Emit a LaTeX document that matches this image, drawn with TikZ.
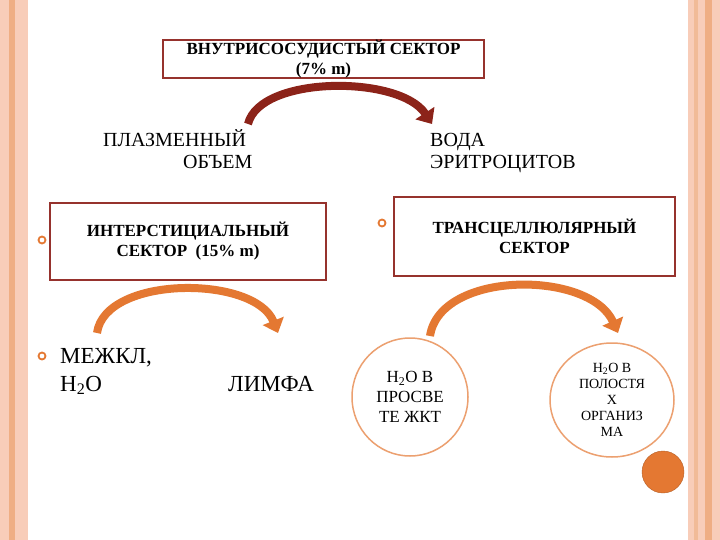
\documentclass[tikz,border=0pt]{standalone}
\usepackage{fontspec}
\setmainfont{Liberation Serif}
\usetikzlibrary{arrows.meta,shapes.geometric}
\definecolor{boxred}{RGB}{150,50,45}
\definecolor{arrred}{RGB}{140,35,25}
\definecolor{orng}{RGB}{228,120,50}
\definecolor{pinkbar}{RGB}{248,205,185}
\begin{document}
\begin{tikzpicture}[x=1pt,y=-1pt,
  sbox/.style={draw=boxred,line width=1.5pt,fill=white,align=center,font=\bfseries\fontsize{17}{20}\selectfont},
  bigtxt/.style={anchor=base west,font=\fontsize{20}{22}\selectfont,inner sep=0},
  hugetxt/.style={anchor=base west,font=\fontsize{23}{28}\selectfont,inner sep=0},
  bul/.style={circle,draw=orng,line width=1.8pt,minimum size=7pt,inner sep=0},
  circ/.style={ellipse,draw=orng!70,line width=1.5pt,align=center,inner sep=0},
  curv/.style={line width=8pt,-{Triangle[length=13pt,width=22pt]}}]
\useasboundingbox (0,0) rectangle (720,540);
\fill[pinkbar] (0,0) rectangle (28,540);
\fill[orng!60] (9,0) rectangle (15,540);
\fill[pinkbar] (688,0) rectangle (720,540);
\fill[orng!50] (694,0) rectangle (698,540);
\fill[orng!60] (705,0) rectangle (712,540);
\fill[white] (28,0) rectangle (688,540);
\node[sbox,minimum width=321pt,minimum height=38pt,inner sep=0] (top) at (323.5,59) {ВНУТРИСОСУДИСТЫЙ СЕКТОР\\(7\% m)};
\coordinate (a1s) at (248,124); \coordinate (a1e) at (432,124);
\draw[curv,arrred] (a1s) .. controls (260,75) and (400,75) .. (a1e);
\node[bigtxt] (plaz) at (103,147) {ПЛАЗМЕННЫЙ};
\node[bigtxt] (obj) at (183,169) {ОБЪЕМ};
\node[bigtxt] (voda) at (430,147) {ВОДА};
\node[bigtxt] (eritr) at (430,169) {ЭРИТРОЦИТОВ};
\node[sbox,minimum width=276pt,minimum height=77pt] (inter) at (188,241.5) {ИНТЕРСТИЦИАЛЬНЫЙ\\СЕКТОР~~(15\% m)};
\node[bul] (b1) at (42,240) {};
\node[sbox,minimum width=281pt,minimum height=79pt] (trans) at (534.5,236.5) {ТРАНСЦЕЛЛЮЛЯРНЫЙ\\СЕКТОР};
\node[bul] (b2) at (382,223) {};
\coordinate (a2s) at (97,333); \coordinate (a2e) at (278,333);
\draw[curv,orng] (a2s) .. controls (105,275) and (255,275) .. (a2e);
\node[bul] (b3) at (42,356) {};
\node[hugetxt] (mezh) at (60,363) {МЕЖКЛ,};
\node[hugetxt] (h2o) at (60,391) {H\textsubscript{2}O};
\node[hugetxt] (limf) at (228,391) {ЛИМФА};
\coordinate (a3s) at (430,336); \coordinate (a3e) at (618,333);
\draw[curv,orng] (a3s) .. controls (440,270) and (590,270) .. (a3e);
\node[circ,minimum width=116pt,minimum height=118pt,font=\fontsize{17}{20}\selectfont] (c1) at (410,397) {H\textsubscript{2}O В\\ПРОСВЕ\\ТЕ ЖКТ};
\node[circ,minimum width=124pt,minimum height=114pt,font=\fontsize{14}{16}\selectfont] (c2) at (612,400) {H\textsubscript{2}O В\\ПОЛОСТЯ\\Х\\ОРГАНИЗ\\МА};
\node[circle,fill=orng,draw=orng!80!black,minimum size=42pt,inner sep=0] (dot) at (663,472) {};
\end{tikzpicture}
\end{document}
